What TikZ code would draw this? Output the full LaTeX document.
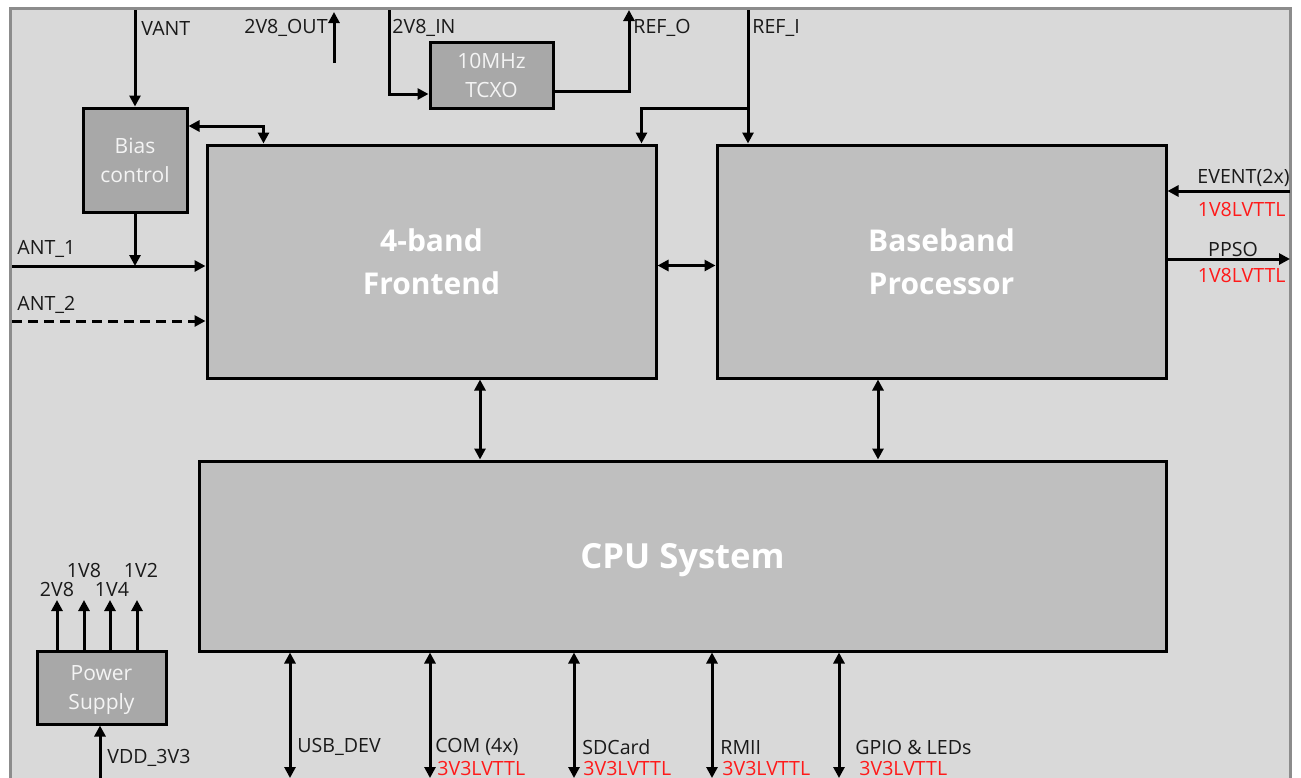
\documentclass[tikz,border=0pt]{standalone}
\usepackage{fontspec}
\setmainfont{Open Sans}
\usetikzlibrary{arrows.meta}
\definecolor{bgfill}{HTML}{D9D9D9}
\definecolor{framecol}{HTML}{8C8C8C}
\definecolor{smallfill}{HTML}{A8A8A8}
\definecolor{bigfill}{HTML}{BFBFBF}
\definecolor{lblcol}{HTML}{1A1A1A}
\definecolor{redlbl}{HTML}{FF1A1A}
\definecolor{boxtext}{HTML}{F4F4F4}
\begin{document}
\begin{tikzpicture}[x=0.5pt,y=-0.5pt,
  conn/.style={line width=1.5pt, -{Triangle[length=5.5pt,width=5.5pt]}},
  bconn/.style={line width=1.5pt, {Triangle[length=5.5pt,width=5.5pt]}-{Triangle[length=5.5pt,width=5.5pt]}},
  lab/.style={font=\fontsize{9.8}{11}\selectfont, text=lblcol, inner sep=0pt},
  rlab/.style={lab, text=redlbl},
  smallbox/.style={draw=black, line width=1.5pt, fill=smallfill, text=boxtext, align=center,
    font=\fontsize{10.5}{14.5}\selectfont, inner sep=0pt},
  bigbox/.style={draw=black, line width=1.5pt, fill=bigfill, text=white, align=center,
    font=\bfseries\fontsize{15}{21.5}\selectfont, inner sep=0pt}
]
\useasboundingbox (0,0) rectangle (1301,777);
\fill[white] (0,0) rectangle (1301,777);
\draw[framecol, line width=1.5pt, fill=bgfill] (10,8) rectangle (1290,820);

% blocks
\node[smallbox, minimum width=52pt, minimum height=52pt] (bias) at (135,160) {Bias\\control};
\node[smallbox, minimum width=61.5pt, minimum height=33pt] (tcxo) at (491.5,75) {10MHz\\TCXO};
\node[bigbox, minimum width=224.5pt, minimum height=116.5pt] (frontend) at (431.5,261.5) {4-band\\Frontend};
\node[bigbox, minimum width=224.5pt, minimum height=116.5pt] (baseband) at (941.5,261.5) {Baseband\\Processor};
\node[bigbox, minimum width=483.5pt, minimum height=95pt] (cpu) at (682.5,556) {};
\node[text=white, font=\bfseries\fontsize{17.3}{20}\selectfont, inner sep=0pt] (cputxt) at (682.5,560) {CPU System};
\node[smallbox, minimum width=64.5pt, minimum height=36.5pt] (power) at (101.5,687.5) {};
\node[text=boxtext, align=center, font=\fontsize{10.5}{14.5}\selectfont, inner sep=0pt] (powertxt) at (101.5,690) {Power\\Supply};

% top signals
\coordinate (vantTop) at (135,10);
\draw[conn] (vantTop) -- (bias.north);
\node[lab, anchor=west] (vantL) at (141,28) {VANT};

\coordinate (outBot) at (334,63);
\coordinate (outTop) at (334,12);
\draw[conn] (outBot) -- (outTop);
\node[lab, anchor=east] (outL) at (328,28) {2V8\_OUT};

\coordinate (inTop) at (389,10);
\draw[conn] (inTop) |- ([yshift=-9.5pt]tcxo.west);
\node[lab, anchor=west] (inL) at (392,28) {2V8\_IN};

\coordinate (refoTop) at (629,10);
\draw[conn] ([yshift=-8pt]tcxo.east) -| (refoTop);
\node[lab, anchor=west] (refoL) at (633,28) {REF\_O};

\coordinate (refiTop) at (748,10);
\coordinate (refBranch) at (748,108);
\draw[conn] (refiTop) -- (refiTop |- baseband.north);
\draw[conn] (refBranch) -| ([xshift=-8pt]frontend.north east);
\node[lab, anchor=west] (refiL) at (752,28) {REF\_I};

% bias / antenna
\draw[bconn] ([yshift=17pt]bias.east) -| ([xshift=29pt]frontend.north west);
\coordinate (ant1L) at (12,266);
\coordinate (ant2L) at (12,321);
\draw[conn] (ant1L) -- (ant1L -| frontend.west);
\draw[conn] (bias.south) -- (bias.south |- ant1L);
\draw[conn, dash pattern=on 5pt off 3pt] (ant2L) -- (ant2L -| frontend.west);
\node[lab, anchor=west] (ant1Lab) at (17,249) {ANT\_1};
\node[lab, anchor=west] (ant2Lab) at (17,305) {ANT\_2};

% inter-block
\draw[bconn] ([yshift=-2pt]frontend.east) -- ([yshift=-2pt]baseband.west);
\draw[bconn] ([xshift=24.25pt]frontend.south) -- ([xshift=24.25pt]frontend.south |- cpu.north);
\draw[bconn] ([xshift=-31.75pt]baseband.south) -- ([xshift=-31.75pt]baseband.south |- cpu.north);

% right signals
\coordinate (evR) at (1290,191);
\coordinate (ppsR) at (1290,259);
\draw[conn] (evR) -- (evR -| baseband.east);
\draw[conn] (ppsR -| baseband.east) -- (ppsR);
\node[lab, anchor=east] (evL) at (1290,178) {EVENT(2x)};
\node[rlab, anchor=east] (evR2) at (1286,209) {1V8LVTTL};
\node[lab] (ppsL) at (1233,249) {PPSO};
\node[rlab, anchor=east] (ppsR2) at (1286,275) {1V8LVTTL};

% power supply
\foreach \xx/\nm in {57/a,84/b,110/c,137/d}{
  \coordinate (pt\nm) at (\xx,600);
  \draw[conn] (\xx,651) -- (pt\nm);
}
\node[lab] (v28) at (57,589) {2V8};
\node[lab] (v18) at (84,570) {1V8};
\node[lab] (v14) at (112,589) {1V4};
\node[lab] (v12) at (141,570) {1V2};
\coordinate (vddB) at (100,778);
\draw[conn] (vddB) -- (vddB |- power.south);
\node[lab, anchor=west] (vddL) at (107,758) {VDD\_3V3};

% bottom buses
\foreach \xx/\nm in {290/usb,430/com,574/sd,712/rmii,839/gpio}{
  \coordinate (b\nm) at (\xx,778);
  \draw[bconn] (b\nm |- cpu.south) -- (b\nm);
}
\node[lab, anchor=west] (usbL) at (297,747) {USB\_DEV};
\node[lab, anchor=west] (comL) at (435,747) {COM (4x)};
\node[rlab, anchor=west] (comR) at (437,768) {3V3LVTTL};
\node[lab, anchor=west] (sdL) at (582,747) {SDCard};
\node[rlab, anchor=west] (sdR) at (583,768) {3V3LVTTL};
\node[lab, anchor=west] (rmL) at (720,747) {RMII};
\node[rlab, anchor=west] (rmR) at (722,768) {3V3LVTTL};
\node[lab, anchor=west] (gpL) at (855,747) {GPIO \& LEDs};
\node[rlab, anchor=west] (gpR) at (859,768) {3V3LVTTL};
\end{tikzpicture}
\end{document}
